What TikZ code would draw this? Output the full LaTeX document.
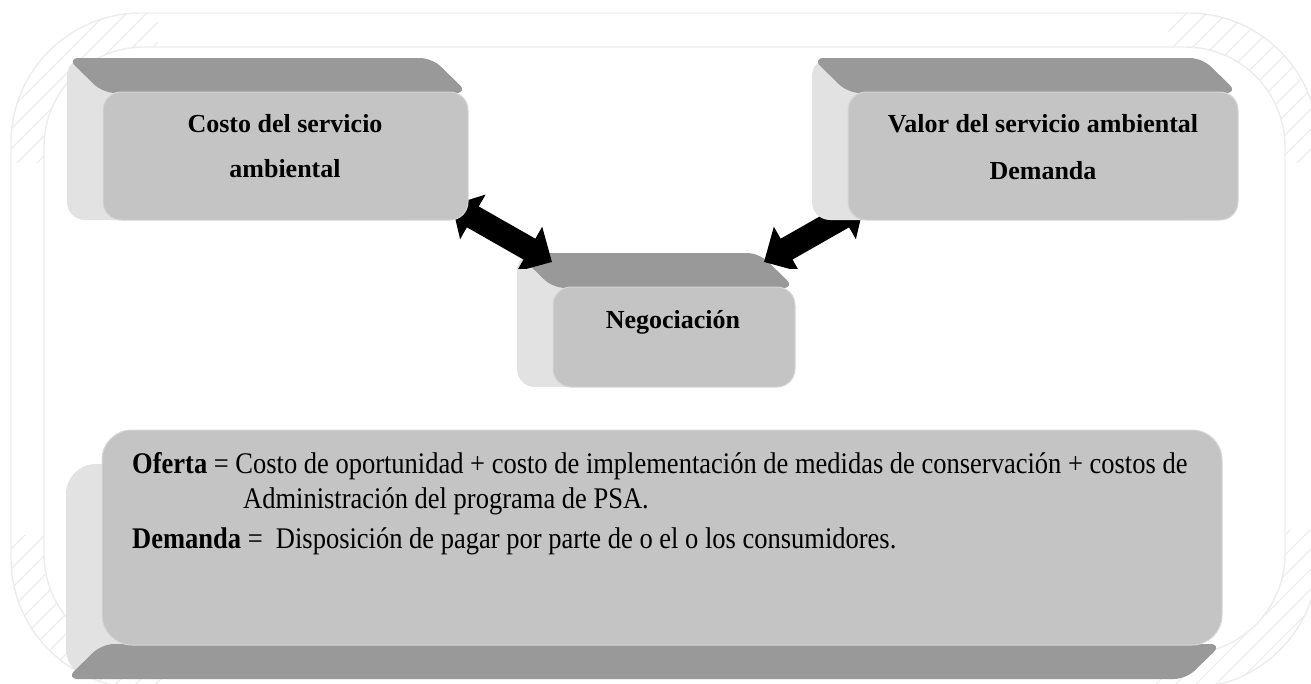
\documentclass[tikz,border=0pt]{standalone}
\usepackage{graphicx}
\usepackage{fontspec}
\setmainfont{Liberation Serif}
\usetikzlibrary{arrows.meta}
\definecolor{facecol}{RGB}{196,196,196}
\definecolor{topcol}{RGB}{153,153,153}
\definecolor{sidecol}{RGB}{226,226,226}
\definecolor{edgecol}{RGB}{214,214,214}
\definecolor{framecol}{RGB}{236,236,236}
\newcommand\talltext[1]{\scalebox{1}[1.13]{#1}}
\pgfdeclarelayer{framelayer}
\pgfdeclarelayer{lowbox}
\pgfdeclarelayer{arrowlayer}
\pgfsetlayers{framelayer,lowbox,arrowlayer,main}
\tikzset{
  frontface/.style={draw=edgecol, line width=1pt, fill=facecol, rounded corners=18pt, inner sep=0pt, outer sep=0pt},
  bigface/.style={frontface, rounded corners=30pt},
  sideface/.style={fill=sidecol},
  topface/.style={fill=topcol},
  titletext/.style={font=\fontsize{26}{30}\selectfont\bfseries, inner sep=0pt},
  bodytext/.style={font=\fontsize{26.5}{30}\selectfont, inner sep=0pt, anchor=base west},
  dblarrow/.style={line width=24pt, black, {Triangle[width=50pt,length=24pt]}-{Triangle[width=50pt,length=26pt]}},
  frameline/.style={draw=framecol, line width=1.4pt},
  hatchline/.style={draw=framecol, line width=1.1pt}
}
\begin{document}
\begin{tikzpicture}[x=1pt,y=-1pt]
\useasboundingbox (0,0) rectangle (1311,683);
\clip (0,0) rectangle (1311,683);

% ---------- boxes ----------
% Costo del servicio ambiental
\fill[sideface, rounded corners=18pt] (67,58) rectangle (432,220);
\fill[topface, rounded corners=12pt] (67,58) -- (432,58) -- (468,93) -- (103,93) -- cycle;
\node[frontface, minimum width=365pt, minimum height=128pt] (costo) at (285.5,156) {};
\node[titletext, anchor=base] (costo1) at (285,132) {Costo del servicio};
\node[titletext, anchor=base] (costo2) at (285,177) {ambiental};

% Valor del servicio ambiental
\fill[sideface, rounded corners=18pt] (812,58) rectangle (1202,220);
\fill[topface, rounded corners=12pt] (812,58) -- (1202,58) -- (1238,93) -- (848,93) -- cycle;
\node[frontface, minimum width=390pt, minimum height=128pt] (valor) at (1043,156) {};
\node[titletext, anchor=base] (valor1) at (1043,132) {Valor del servicio ambiental};
\node[titletext, anchor=base] (valor2) at (1043,179) {Demanda};

% Negociacion (below the arrows)
\begin{pgfonlayer}{lowbox}
\fill[sideface, rounded corners=18pt] (517,253) rectangle (759,387);
\fill[topface, rounded corners=12pt] (517,253) -- (759,253) -- (795,288) -- (553,288) -- cycle;
\node[frontface, minimum width=242pt, minimum height=100pt] (nego) at (674,337) {};
\node[titletext, anchor=base] (nego1) at (673,328) {Negociación};
\end{pgfonlayer}

% Oferta / Demanda
\fill[sideface, rounded corners=30pt] (66,464) rectangle (1186,679);
\fill[topface, rounded corners=12pt] (102,644) -- (1222,644) -- (1186,679) -- (66,679) -- cycle;
\node[bigface, minimum width=1120pt, minimum height=215pt] (texto) at (662,537.5) {};
\node[bodytext] (linea1) at (132,473) {\talltext{\textbf{Oferta} = Costo de oportunidad + costo de implementación de medidas de conservación + costos de}};
\node[bodytext] (linea2) at (243,508) {\talltext{Administración del programa de PSA.}};
\node[bodytext] (linea3) at (132,548) {\talltext{\textbf{Demanda} =\ \ Disposición de pagar por parte de o el o los consumidores.}};

% ---------- arrows (over Negociacion, under the upper boxes) ----------
\begin{pgfonlayer}{arrowlayer}
\begin{scope}
\clip (0,0) rectangle (1311,268);
\draw[dblarrow] ([xshift=-16pt,yshift=15pt]costo.south east) -- ([xshift=-1pt,yshift=25pt]nego.north west);
\draw[dblarrow] ([xshift=16pt,yshift=15pt]valor.south west) -- ([xshift=-31pt,yshift=25pt]nego.north east);
\end{scope}
\end{pgfonlayer}

% ---------- background frame ----------
\begin{pgfonlayer}{framelayer}
\draw[frameline, rounded corners=130pt] (11,13) rectangle (1318,688);
\draw[frameline, rounded corners=100pt] (44,47) rectangle (1285,654);
\begin{scope}[even odd rule]
  \clip[rounded corners=130pt] (11,13) rectangle (1318,688) [rounded corners=100pt] (44,47) rectangle (1285,654);
  \begin{scope}
    \clip (0,0) rectangle (158,162);
    \foreach \c in {0,20,...,360} \draw[hatchline] (\c,0) -- (\c-1000,1000);
  \end{scope}
  \begin{scope}
    \clip (1168,0) rectangle (1311,162);
    \foreach \c in {1160,1180,...,1500} \draw[hatchline] (\c,0) -- (\c-1000,1000);
  \end{scope}
  \begin{scope}
    \clip (0,535) rectangle (168,683);
    \foreach \c in {520,540,...,880} \draw[hatchline] (\c,0) -- (\c-1000,1000);
  \end{scope}
  \begin{scope}
    \clip (1145,530) rectangle (1311,683);
    \foreach \c in {1660,1680,...,2000} \draw[hatchline] (\c,0) -- (\c-1000,1000);
  \end{scope}
\end{scope}
\end{pgfonlayer}
\end{tikzpicture}
\end{document}
